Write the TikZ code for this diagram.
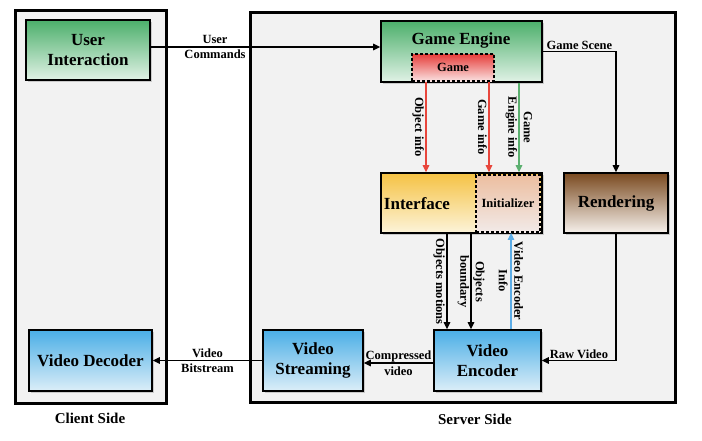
\documentclass[tikz,border=0pt]{standalone}
\usepackage{fontspec}
\setmainfont{Liberation Serif}
\usetikzlibrary{arrows.meta,shadows}
\definecolor{bggray}{RGB}{242,242,242}
\definecolor{gtop}{RGB}{76,175,107}
\definecolor{gbot}{RGB}{225,242,230}
\definecolor{rtop}{RGB}{230,62,58}
\definecolor{rbot}{RGB}{250,225,225}
\definecolor{ytop}{RGB}{245,194,68}
\definecolor{ybot}{RGB}{252,244,218}
\definecolor{ptop}{RGB}{236,190,160}
\definecolor{pbot}{RGB}{242,234,232}
\definecolor{btop}{RGB}{122,74,32}
\definecolor{bbot}{RGB}{246,241,236}
\definecolor{ltop}{RGB}{74,174,230}
\definecolor{lbot}{RGB}{220,238,248}
\definecolor{redline}{RGB}{232,70,60}
\definecolor{greenline}{RGB}{92,176,112}
\definecolor{blueline}{RGB}{92,172,230}
\begin{document}
\begin{tikzpicture}[x=1pt,y=-1pt,
  outerbox/.style={draw, line width=3pt, fill=bggray,
    drop shadow={shadow xshift=2pt, shadow yshift=-2pt, opacity=0.35}},
  box/.style={draw, line width=1.7pt, inner sep=0pt, align=center,
    font=\bfseries\fontsize{17}{20}\selectfont,
    drop shadow={shadow xshift=1.5pt, shadow yshift=-1.5pt, opacity=0.35}},
  dbox/.style={draw, line width=1.8pt, dash pattern=on 3pt off 2pt, inner sep=0pt, align=center,
    font=\bfseries\fontsize{12.5}{15}\selectfont},
  greenbox/.style={box, top color=gtop, bottom color=gbot},
  yellowbox/.style={box, top color=ytop, bottom color=ybot},
  brownbox/.style={box, top color=btop, bottom color=bbot},
  bluebox/.style={box, top color=ltop, bottom color=lbot},
  redbox/.style={dbox, top color=rtop, bottom color=rbot},
  peachbox/.style={dbox, top color=ptop, bottom color=pbot},
  boxtext/.style={inner sep=0pt, font=\bfseries\fontsize{17}{20}\selectfont},
  sidetext/.style={inner sep=0pt, font=\bfseries\fontsize{15}{18}\selectfont},
  lbl/.style={font=\bfseries\fontsize{12.5}{15.5}\selectfont, align=center, inner sep=1.5pt},
  arr/.style={line width=1.3pt, -{Triangle[length=7pt,width=6.5pt]}},
  redarr/.style={arr, draw=redline},
  greenarr/.style={arr, draw=greenline},
  bluearr/.style={arr, draw=blueline}
]
\useasboundingbox (0,0) rectangle (702,440);

% outer containers
\node[outerbox, minimum width=151pt, minimum height=393pt] (client) at (90.5,206.5) {};
\node[outerbox, minimum width=425pt, minimum height=390pt] (server) at (462.5,207) {};

% client side
\node[greenbox, minimum width=124pt, minimum height=60pt] (ui) at (88,50) {User\\Interaction};
\node[bluebox, minimum width=123pt, minimum height=61pt] (vdec) at (90.5,360.5) {Video Decoder};

% server side
\node[greenbox, minimum width=161pt, minimum height=61pt] (ge) at (461.5,51.5) {};
\node[boxtext] (getext) at (461,40) {Game Engine};
\node[redbox, minimum width=82pt, minimum height=27pt] (game) at (453,67.5) {Game};

\node[yellowbox, minimum width=161pt, minimum height=60pt] (intf) at (461.5,203) {};
\node[boxtext] (intftext) at (417,204) {Interface};
\node[peachbox, minimum width=64pt, minimum height=57pt] (init) at (508,203.5) {Initializer};

\node[brownbox, minimum width=104pt, minimum height=60pt] (rend) at (616,203) {Rendering};

\node[bluebox, minimum width=107pt, minimum height=61pt] (venc) at (487.5,360.5) {Video\\Encoder};
\node[bluebox, minimum width=100pt, minimum height=61pt] (vstr) at (313,360.5) {Video\\Streaming};

\node[sidetext] (clientlbl) at (90,418) {Client Side};
\node[sidetext] (serverlbl) at (475,419) {Server Side};

% connectors
\draw[arr] ([yshift=3pt]ui.east) -- node[lbl, pos=0.28]{User\\Commands} ([yshift=4.5pt]ge.west);
\draw[arr] (ge.east) -| node[lbl, pos=0.25, anchor=south]{Game Scene} (rend.north);

\draw[redarr] ([xshift=-27pt]game.south) -- node[lbl, midway, rotate=-90, anchor=north]{Object info}
  ([xshift=-27pt]game.south |- intf.north);
\draw[redarr] ([xshift=36pt]game.south) -- node[lbl, midway, rotate=-90, anchor=north]{Game info}
  ([xshift=36pt]game.south |- intf.north);
\draw[greenarr] ([xshift=57.5pt]ge.south) -- node[lbl, midway, rotate=-90]{Game\\Engine info}
  ([xshift=57.5pt]ge.south |- intf.north);

\draw[arr] ([xshift=-14.5pt]intf.south) -- node[lbl, midway, rotate=-90, anchor=north]{Objects motions}
  ([xshift=-14.5pt]intf.south |- venc.north);
\draw[arr] ([xshift=9.5pt]intf.south) -- node[lbl, midway, rotate=-90]{Objects\\boundary}
  ([xshift=9.5pt]intf.south |- venc.north);
\draw[bluearr] ([xshift=23.5pt]venc.north) -- node[lbl, midway, rotate=-90]{Video Encoder\\Info}
  ([xshift=23.5pt]venc.north |- init.south);

\draw[arr] (rend.south) |- node[lbl, pos=0.75, anchor=south]{Raw Video} (venc.east);
\draw[arr] ([yshift=-2.5pt]venc.west) -- node[lbl, midway]{Compressed\\video} ([yshift=-2.5pt]vstr.east);
\draw[arr] (vstr.west) -- node[lbl, midway]{Video\\Bitstream} (vdec.east);
\end{tikzpicture}
\end{document}
